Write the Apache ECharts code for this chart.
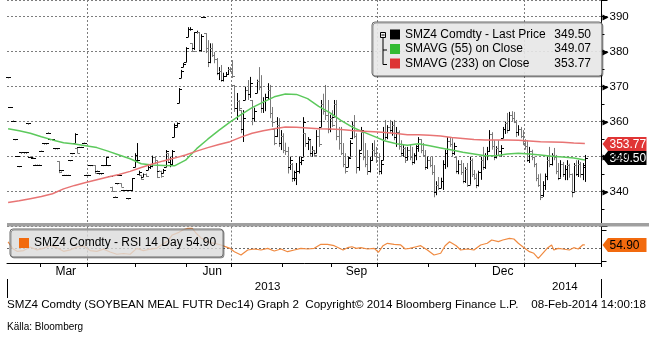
<!DOCTYPE html>
<html><head><meta charset="utf-8">
<script src="https://cdn.jsdelivr.net/npm/echarts@6/dist/echarts.min.js"></script>
<style>html,body{margin:0;padding:0;background:#fff}#c{width:649px;height:344px}</style>
</head><body><div id="c"></div>
<script>
// ---- categories: trading days (weekdays) from 2013-02-08 to 2014-02-18 ----
const dates = [];
(function () {
  let t = Date.UTC(2013, 1, 8); const end = Date.UTC(2014, 1, 18);
  while (t <= end) { const d = new Date(t); const w = d.getUTCDay(); if (w !== 0 && w !== 6) dates.push(d.toISOString().slice(0, 10)); t += 86400000; }
})();

// ---- daily bars [open, high, low, close], one per trading day from 2013-02-08 ----
const bars = [
[372.7,372.7,372.7,372.7],[364.2,364.2,364.2,364.2],[360.3,360.3,360.3,360.3],[355.0,355.0,355.0,355.0],[350.2,350.2,350.2,350.2],
[347.3,347.3,347.3,347.3],[351.2,351.2,351.2,351.2],[351.2,351.2,351.2,351.2],[351.2,351.2,351.2,351.2],[359.5,359.5,359.5,359.5],
[350.0,350.0,350.0,350.0],[349.7,349.7,349.7,349.7],[347.7,347.7,347.7,347.7],[347.7,347.7,347.7,347.7],[347.7,347.7,347.7,347.7],
[351.7,351.7,351.7,351.7],[353.8,353.8,353.8,353.8],[353.8,353.8,353.8,353.8],[356.9,356.9,356.9,356.9],[355.0,355.0,355.0,355.0],
[355.0,355.0,355.0,355.0],[352.4,352.4,352.4,352.4],[352.4,352.4,352.4,352.4],[348.7,348.7,345.3,345.5],[346.1,346.1,346.1,346.1],
[344.8,344.8,344.8,344.8],[344.8,344.8,344.8,344.8],[344.8,344.8,344.8,344.8],[349.0,349.0,349.0,349.0],[351.0,351.0,351.0,351.0],
[354.0,356.7,353.9,356.5],[352.5,352.5,351.0,351.0],[352.8,352.8,352.8,352.8],[352.8,352.8,352.8,352.8],[354.0,354.0,354.0,354.0],
[344.8,344.8,344.8,344.8],[344.8,344.8,344.8,344.8],[347.6,347.6,347.6,347.6],[347.6,347.6,347.6,347.6],[347.6,347.6,345.2,345.4],
[346.0,346.0,346.0,346.0],[345.2,345.2,345.2,345.2],[345.2,345.2,345.2,345.2],[347.6,347.6,347.6,347.6],[347.6,350.0,347.6,350.0],
[347.6,347.6,347.6,347.6],[344.5,344.5,344.5,344.5],[341.4,341.4,340.0,340.2],[338.6,338.6,338.6,338.6],[342.4,342.4,342.4,342.4],
[344.8,344.8,344.8,344.8],[342.4,342.4,341.4,341.4],[340.5,340.5,340.5,340.5],[340.5,340.5,340.5,340.5],[338.1,338.1,338.1,338.1],
[340.5,340.5,340.5,340.5],[340.5,343.9,340.5,343.9],[347.0,351.0,347.0,350.5],[349.0,353.9,348.2,349.0],[345.0,346.0,344.8,345.5],
[344.8,344.8,343.4,343.6],[344.2,345.2,344.2,345.0],[345.0,345.2,344.2,344.5],[346.2,347.6,346.2,347.0],[347.0,347.6,346.5,347.4],
[347.4,350.3,347.0,350.0],[350.0,350.0,348.0,348.5],[349.0,349.0,343.9,344.2],[346.0,346.0,346.0,346.0],[346.0,346.0,344.0,344.5],
[345.2,346.5,345.2,346.2],[347.0,351.9,347.0,351.5],[351.0,351.0,348.2,348.5],[348.5,350.0,347.0,349.5],[348.0,351.9,347.6,351.5],
[355.6,359.5,355.6,359.0],[358.5,359.8,358.5,359.5],[365.3,369.6,365.3,369.2],[372.5,374.8,372.5,374.5],[375.6,376.8,375.6,376.5],
[377.0,381.3,377.0,381.0],[384.2,387.0,384.2,386.5],[386.5,387.0,386.0,386.5],[382.4,382.4,379.9,380.2],[381.0,385.6,380.5,385.6],
[385.6,386.0,385.2,385.6],[385.6,385.6,379.9,380.5],[380.5,385.0,380.0,384.5],[390.0,390.0,390.0,390.0],[385.3,385.3,379.6,381.0],
[381.0,383.3,375.6,377.0],[377.0,382.4,376.7,381.0],[381.0,382.4,378.5,379.0],[379.0,379.9,376.7,378.0],[378.0,378.2,373.3,374.0],
[374.0,375.6,371.9,374.5],[374.5,376.2,371.4,372.0],[372.0,374.0,371.5,373.0],[373.0,374.2,372.8,373.5],[373.5,375.6,373.5,375.0],
[375.0,375.6,374.2,374.5],[374.5,377.6,372.5,373.0],[370.5,370.5,362.8,364.0],[364.0,368.2,360.5,366.0],[366.0,366.2,363.3,364.0],
[363.3,363.3,356.7,358.0],[358.0,363.3,354.2,361.0],[366.2,370.0,366.2,369.0],[369.0,371.9,366.2,368.0],[368.0,372.8,366.8,371.0],
[366.2,366.2,359.0,361.0],[361.0,364.0,360.0,363.0],[368.2,372.0,368.2,371.5],[371.5,375.6,369.0,370.0],[370.0,373.3,362.5,364.0],
[364.0,367.0,362.5,366.0],[366.0,368.0,363.0,367.0],[367.0,371.0,366.2,369.0],[369.0,370.5,361.0,362.5],[362.5,364.2,358.5,360.0],
[358.0,358.2,353.3,354.0],[356.0,361.3,355.6,359.0],[359.0,361.0,352.8,354.0],[354.0,357.6,351.9,356.0],[356.0,356.7,351.0,352.0],
[352.0,354.0,350.5,351.5],[351.5,352.8,345.2,347.0],[347.0,350.0,346.2,349.0],[348.0,348.2,342.8,344.0],[344.0,346.0,343.0,345.5],
[344.0,348.2,341.9,346.0],[346.0,350.0,345.2,348.5],[348.5,350.0,347.6,349.0],[350.0,361.3,350.0,360.0],[356.7,356.7,352.8,354.0],
[354.0,355.6,351.9,355.0],[354.7,354.7,350.0,351.0],[351.0,353.0,350.0,352.0],[351.9,351.9,350.0,350.5],[351.0,357.6,351.0,356.0],
[356.0,358.5,352.8,353.5],[358.5,366.2,358.5,365.0],[365.0,368.0,362.0,363.0],[363.0,370.5,360.5,362.0],[362.0,366.2,356.7,358.0],
[358.0,362.0,357.0,361.0],[361.0,363.3,358.5,359.0],[361.3,366.2,361.3,365.0],[365.0,366.2,354.7,356.0],[356.0,358.5,352.0,354.0],
[354.0,358.5,350.5,351.0],[351.0,353.9,347.0,348.0],[348.0,351.0,345.2,346.0],[347.0,350.0,347.0,349.5],[350.0,354.7,350.0,354.0],
[355.3,360.0,355.0,359.0],[359.0,361.9,355.3,356.0],[356.0,356.7,345.2,347.0],[347.0,352.0,346.0,351.0],[352.0,358.5,351.9,357.5],
[357.0,357.0,349.0,350.0],[350.0,353.9,347.0,348.0],[348.0,351.9,344.8,346.0],[346.0,350.0,345.5,349.0],[349.0,353.9,349.0,352.0],
[352.0,354.7,350.0,351.0],[351.0,352.8,348.2,350.0],[350.0,351.0,344.8,346.0],[346.0,349.0,345.0,348.0],[349.0,358.5,349.0,357.0],
[357.0,360.5,354.7,355.5],[355.5,359.0,355.0,358.5],[358.5,360.5,356.7,357.5],[357.5,360.0,356.0,359.0],[359.0,360.5,354.7,355.5],
[355.5,358.5,352.8,357.0],[357.0,357.5,352.0,353.0],[353.0,354.7,350.0,350.5],[351.0,353.3,350.0,352.5],[352.5,352.8,348.2,349.0],
[350.0,352.8,349.0,352.0],[352.0,353.3,349.0,350.0],[350.0,352.8,347.6,348.5],[348.5,351.0,348.0,350.5],[350.5,353.3,349.0,352.5],
[353.0,355.6,351.4,355.0],[355.0,355.0,351.0,352.0],[352.0,353.9,350.0,350.5],[350.5,351.9,346.2,347.0],[347.0,350.0,346.5,349.0],
[349.0,350.0,347.0,347.5],[347.5,350.0,344.8,345.5],[345.5,347.6,338.4,340.0],[340.0,343.0,339.0,342.0],[342.0,344.2,340.5,341.0],
[341.0,344.0,341.0,343.0],[343.0,349.0,340.5,348.0],[348.0,352.0,346.5,351.0],[351.0,355.6,347.0,354.5],[354.5,355.6,352.8,353.5],
[353.5,355.3,350.0,351.0],[351.0,354.0,350.5,353.0],[350.0,350.0,345.2,346.0],[346.0,349.0,345.0,348.0],[348.0,349.0,344.8,345.5],
[345.5,348.2,342.4,343.0],[343.0,347.0,342.5,346.5],[346.5,348.2,341.4,342.0],[342.0,350.0,342.0,349.0],[349.0,349.5,344.2,345.0],
[345.0,346.2,343.4,344.0],[344.0,345.2,341.0,342.0],[342.0,346.0,341.5,345.5],[345.5,350.0,343.4,349.0],[349.0,352.8,346.2,347.0],
[347.0,351.0,346.5,350.5],[350.5,352.8,349.0,351.5],[351.5,357.6,351.4,356.5],[356.5,357.0,352.0,353.0],[353.0,354.7,349.0,350.0],
[350.0,353.0,349.5,352.5],[352.5,354.7,350.5,351.5],[351.5,353.3,350.0,352.5],[355.3,358.5,355.3,358.0],[358.0,360.0,356.5,359.5],
[359.5,362.5,356.7,357.5],[357.5,362.8,357.5,362.0],[362.0,363.0,360.0,361.0],[361.0,362.8,359.6,360.0],[360.0,360.5,355.6,357.0],
[357.0,359.0,356.0,358.0],[358.0,358.5,355.3,356.0],[356.0,357.6,353.3,354.0],[354.0,355.0,352.0,353.0],[353.0,354.7,348.5,349.0],
[349.0,352.8,348.2,351.5],[351.5,352.0,349.0,350.0],[350.0,350.0,347.0,348.0],[348.0,348.2,343.0,344.0],[344.0,345.0,341.4,342.0],
[342.0,345.2,337.6,338.5],[339.0,343.0,338.5,342.0],[342.0,345.2,340.5,344.5],[344.5,350.0,343.3,349.0],[349.0,352.8,347.0,348.0],
[348.0,351.0,347.5,350.5],[350.5,352.5,349.0,350.0],[350.0,350.5,345.0,346.0],[346.0,348.2,343.3,344.0],[344.0,349.0,344.0,348.0],
[348.0,348.5,344.2,345.0],[345.0,347.6,343.3,346.5],[346.5,349.0,343.3,347.5],[347.5,348.0,344.0,345.0],[345.0,345.2,338.4,340.0],
[340.0,348.2,340.0,347.5],[347.5,349.0,344.5,345.0],[345.0,349.0,344.2,348.0],[348.0,348.5,344.0,345.0],[345.0,348.2,343.3,347.5],
[347.0,350.5,342.8,349.5]
];

// ---- moving averages, read every 5th trading day (index 0,5,...,260) ----
const sma55 = [358.0,357.4,356.7,355.7,354.8,354.0,353.6,353.1,352.6,351.6,350.5,349.4,348.0,347.6,347.5,347.4,349.0,352.3,355.0,357.5,
359.9,362.0,364.0,365.6,367.1,367.9,367.8,366.6,364.4,362.6,360.4,358.5,357.1,355.8,354.5,353.7,353.3,353.7,353.1,352.5,
351.9,351.3,350.8,350.3,350.3,350.8,351.0,350.8,350.5,350.1,349.9,349.6,349.07];
const sma233 = [336.9,337.4,338.0,338.6,339.4,340.8,341.8,342.6,343.4,344.2,344.9,345.8,346.9,347.9,348.8,349.6,350.5,351.6,352.6,353.5,
354.3,355.6,356.7,357.4,358.0,358.5,358.4,358.2,358.0,357.9,357.8,357.5,357.3,357.1,356.9,356.6,356.3,356.3,356.1,355.9,
355.5,355.2,354.9,354.8,354.8,354.8,354.7,354.5,354.3,354.2,354.1,353.9,353.77];
const smaStep = 5;

// ---- RSI 14 day: [trading-day index, value] ----
const rsi14 = [[0,59],[2,50],[4,46],[7,47],[10,52],[13,48],[16,50],[19,54],[22,51],[25,46],[28,48],[31,52],[34,53],[37,47],[40,46],
[43,49],[46,45],[49,42],[52,43],[55,42],[58,50],[61,47],[64,49],[67,50],[69,54.7],[72,60],[74,68.4],[77,72],[79,75.5],[81,77.5],
[83,77.5],[85,70],[87,64.2],[90,58.8],[93,57],[96,54.7],[100,50.1],[102,45.5],[105,41],[108,47.8],[111,49.2],[114,47.8],[117,50.1],
[120,46.4],[123,49.2],[126,45.5],[129,47.8],[132,50.1],[135,49.2],[138,50.1],[141,55.6],[144,55.6],[147,53.7],[151,47.8],[153,51],
[155,52.3],[157,50.1],[159,51],[162,49.2],[165,50.1],[167,44.7],[169,53.7],[171,57],[174,55.6],[177,54.7],[179,49.2],[181,50.1],
[184,52.3],[186,53.7],[189,47.8],[192,41],[195,43.3],[197,53.7],[199,59.2],[202,53.7],[204,47.8],[207,49.2],[210,47.8],[213,54.7],
[216,57],[218,61.5],[221,59.2],[223,61.5],[226,63.8],[228,62.9],[230,57],[232,52.3],[235,45.5],[237,43.3],[239,36.4],[241,43.3],
[243,50.1],[245,54.7],[246,47.8],[248,50.1],[250,49.2],[253,47.8],[255,51],[257,49.2],[259,54.7],[260,54.9]];
const rsiMidline = 50;

// ---- labels ----
const seriesNames = ['SMZ4 Comdty - Last Price', 'SMAVG (55) on Close', 'SMAVG (233) on Close'];
const rsiName = 'SMZ4 Comdty - RSI 14 Day';
const priceTicks = [340, 350, 360, 370, 380, 390];
const monthNames = {'03': 'Mar', '06': 'Jun', '09': 'Sep', '12': 'Dec'};
const quarterStartMonths = ['01', '04', '07', '10'];
const footerLeft = 'SMZ4 Comdty (SOYBEAN MEAL FUTR Dec14) Graph 2  Copyright\u00a9 2014 Bloomberg Finance L.P.';
const footerRight = '08-Feb-2014 14:00:18';
const sourceText = 'K\u00e4lla: Bloomberg';

// ---- derived helpers ----
const ym = i => dates[i].slice(0, 7);
const isMonthStart = i => i > 0 && ym(i) !== ym(i - 1);
const isQuarterStart = i => isMonthStart(i) && quarterStartMonths.includes(dates[i].slice(5, 7));
const monthLabelIdx = new Set();
Object.keys(monthNames).forEach(m => {
  const idx = dates.map((d, i) => [d, i]).filter(p => p[0].slice(5, 7) === m).map(p => p[1]);
  if (idx.length) monthLabelIdx.add(Math.round((idx[0] + idx[idx.length - 1]) / 2) + 1);
});
const yearIdx = {};
dates.forEach((d, i) => { const y = d.slice(0, 4); (yearIdx[y] = yearIdx[y] || []).push(i); });
const yearLabelIdx = new Set(Object.values(yearIdx).map(a => Math.round((a[0] + a[a.length - 1]) / 2) + 1));
const yearStartIdx = new Set(Object.values(yearIdx).map(a => a[0]).filter(i => i > 0));

const lastClose = bars[bars.length - 1][3];
const lastSma55 = sma55[sma55.length - 1];
const lastSma233 = sma233[sma233.length - 1];
const lastRsi = rsi14[rsi14.length - 1][1];
const legendVals = {};
legendVals[seriesNames[0]] = lastClose.toFixed(2);
legendVals[seriesNames[1]] = lastSma55.toFixed(2);
legendVals[seriesNames[2]] = lastSma233.toFixed(2);

const FONT = '"Liberation Sans", Arial, sans-serif';
const GRID_LINE = {color: '#7d7d7d', type: [2, 2], width: 1};

function renderBar(params, api) {
  const i = api.value(0), o = api.value(1), h = api.value(2), l = api.value(3), c = api.value(4);
  const pt = api.coord([i, h]), pb = api.coord([i, l]), po = api.coord([i, o]), pc = api.coord([i, c]);
  const x = Math.round(pt[0]) + 0.5;
  let y1 = pt[1], y2 = pb[1];
  if (y2 - y1 < 1) y2 = y1 + 1;
  const col = c < o ? '#7a7a7a' : '#000';
  const st = {stroke: col, lineWidth: 1};
  const yo = Math.round(po[1]) + 0.5, yc = Math.round(pc[1]) + 0.5;
  return {type: 'group', children: [
    {type: 'line', shape: {x1: x, y1: y1, x2: x, y2: y2}, style: st},
    {type: 'line', shape: {x1: x - 2.5, y1: yo, x2: x, y2: yo}, style: st},
    {type: 'line', shape: {x1: x, y1: yc, x2: x + 2.5, y2: yc}, style: st}
  ]};
}

const chart = echarts.init(document.getElementById('c'), null, {renderer: 'canvas'});
chart.setOption({
  animation: false,
  backgroundColor: '#fff',
  textStyle: {fontFamily: FONT},
  grid: [
    {left: 7, right: 47.5, top: 0, height: 226.7},
    {left: 7, right: 47.5, top: 226.5, height: 36.5}
  ],
  legend: [
    {
      orient: 'vertical', left: 372, top: 22, padding: [6, 11, 6, 18],
      itemWidth: 10, itemHeight: 10, itemGap: 1.5, icon: 'rect', selectedMode: false,
      backgroundColor: 'rgba(240,240,240,0.88)', borderColor: '#6a6a6a', borderWidth: 1, borderRadius: 3,
      shadowColor: 'rgba(0,0,0,0.35)', shadowOffsetX: 1, shadowOffsetY: 1,
      data: [
        {name: seriesNames[0], itemStyle: {color: '#000'}},
        {name: seriesNames[1], itemStyle: {color: '#33bb33'}},
        {name: seriesNames[2], itemStyle: {color: '#dd3333'}}
      ],
      formatter: name => '{n|' + name + '}{v|' + legendVals[name] + '}',
      textStyle: {
        fontFamily: FONT, fontSize: 12, color: '#000', lineHeight: 13,
        rich: {
          n: {width: 140, fontFamily: FONT, fontSize: 12, lineHeight: 13, color: '#000'},
          v: {width: 46, align: 'right', fontFamily: FONT, fontSize: 12, lineHeight: 13, color: '#000'}
        }
      }
    },
    {
      orient: 'horizontal', left: 10, top: 229, padding: [7, 7, 7, 9],
      itemWidth: 10, itemHeight: 10, icon: 'rect', selectedMode: false,
      backgroundColor: 'rgba(240,240,240,0.72)', borderColor: '#6a6a6a', borderWidth: 1, borderRadius: 3,
      shadowColor: 'rgba(0,0,0,0.35)', shadowOffsetX: 1, shadowOffsetY: 1,
      data: [{name: rsiName, itemStyle: {color: '#f26a0e'}}],
      formatter: name => name + ' ' + lastRsi.toFixed(2),
      textStyle: {fontFamily: FONT, fontSize: 12, color: '#000', lineHeight: 14}
    }
  ],
  xAxis: [
    {type: 'category', gridIndex: 0, data: dates, boundaryGap: true,
     axisLine: {show: false}, axisTick: {show: false}, axisLabel: {show: false},
     splitLine: {show: true, interval: (i) => isQuarterStart(i), lineStyle: GRID_LINE}},
    {type: 'category', gridIndex: 1, data: dates, boundaryGap: true,
     axisLine: {show: true, lineStyle: {color: '#000', width: 1}},
     axisTick: {show: true, interval: (i) => isMonthStart(i), length: 4, lineStyle: {color: '#000'}},
     axisLabel: {show: true, interval: (i) => monthLabelIdx.has(i), formatter: v => monthNames[v.slice(5, 7)] || '',
                 margin: 3, fontSize: 12, color: '#000', fontFamily: FONT},
     splitLine: {show: true, interval: (i) => isQuarterStart(i), lineStyle: GRID_LINE}},
    {type: 'category', gridIndex: 1, data: dates, boundaryGap: true, position: 'bottom', offset: 16,
     axisLine: {show: false},
     axisTick: {show: true, interval: (i) => yearStartIdx.has(i), length: 19, lineStyle: {color: '#000'}},
     axisLabel: {show: true, interval: (i) => yearLabelIdx.has(i), formatter: v => v.slice(0, 4),
                 margin: 2, fontSize: 11.5, color: '#000', fontFamily: FONT},
     splitLine: {show: false}}
  ],
  yAxis: [
    {type: 'value', gridIndex: 0, position: 'right', min: 330, max: 394.771, interval: 10,
     axisLine: {show: true, lineStyle: {color: '#000', width: 1}},
     axisTick: {show: true, length: 6, lineStyle: {color: '#000', width: 1}},
     minorTick: {show: true, splitNumber: 2, length: 3, lineStyle: {color: '#000'}},
     axisLabel: {show: true, margin: 8, showMinLabel: false, showMaxLabel: false, fontSize: 11.5, color: '#000', fontFamily: FONT},
     splitLine: {show: true, lineStyle: GRID_LINE}},
    {type: 'value', gridIndex: 1, position: 'right', min: 30, max: 80,
     axisLine: {show: true, lineStyle: {color: '#000', width: 1}},
     axisTick: {show: true, customValues: [32, 75], length: 5, lineStyle: {color: '#000'}},
     axisLabel: {show: false}, splitLine: {show: false}}
  ],
  series: [
    {
      name: seriesNames[0], type: 'custom', xAxisIndex: 0, yAxisIndex: 0,
      renderItem: renderBar, itemStyle: {color: '#000'},
      encode: {x: 0, y: [1, 2, 3, 4]},
      data: bars.map((b, i) => [i, b[0], b[1], b[2], b[3]]),
      z: 3
    },
    {
      name: seriesNames[1], type: 'line', xAxisIndex: 0, yAxisIndex: 0,
      data: sma55.map((v, k) => [k * smaStep, v]),
      showSymbol: false, symbol: 'none', lineStyle: {color: '#5cc95c', width: 1.5}, itemStyle: {color: '#33bb33'}, z: 4
    },
    {
      name: seriesNames[2], type: 'line', xAxisIndex: 0, yAxisIndex: 0,
      data: sma233.map((v, k) => [k * smaStep, v]),
      showSymbol: false, symbol: 'none', lineStyle: {color: '#e87474', width: 1.5}, itemStyle: {color: '#dd3333'}, z: 4
    },
    {
      name: rsiName, type: 'line', xAxisIndex: 1, yAxisIndex: 1,
      data: rsi14, showSymbol: false, symbol: 'none',
      lineStyle: {color: '#f08a40', width: 1.2}, itemStyle: {color: '#f26a0e'}, z: 3
    }
  ]
});

// ---- decorations, axis flags, tick arrows and RSI midline (positioned through the chart's own scales) ----
const n = dates.length;
const xLast = chart.convertToPixel({xAxisIndex: 0}, n - 1);
const xPrev = chart.convertToPixel({xAxisIndex: 0}, n - 2);
const band = xLast - xPrev;
const axisX = xLast + band / 2;
const xFirst = chart.convertToPixel({xAxisIndex: 1}, 0) - band / 2;

function flagEl(y, text, bg, fg) {
  return {
    type: 'group', x: Math.round(axisX) + 0.5, y: Math.round(y), z: 120, silent: true,
    children: [
      {type: 'polygon', shape: {points: [[0, 0], [5.5, -7], [44, -7], [44, 7], [5.5, 7]]}, style: {fill: bg}},
      {type: 'text', x: 7, y: 0.5, style: {text: text, fill: fg, fontSize: 12, fontFamily: FONT, verticalAlign: 'middle', align: 'left'}}
    ]
  };
}
const graphics = [
  {type: 'rect', shape: {x: 7, y: 223, width: 642, height: 3.6}, style: {fill: '#a0a0a0'}, z: 100, silent: true},
  {type: 'rect', shape: {x: 380.5, y: 32.5, width: 5, height: 5}, style: {fill: '#f0f0f0', stroke: '#000', lineWidth: 1}, z: 110, silent: true},
  {type: 'line', shape: {x1: 381.5, y1: 35, x2: 384.5, y2: 35}, style: {stroke: '#000', lineWidth: 1}, z: 110, silent: true},
  {type: 'line', shape: {x1: 383, y1: 37.5, x2: 383, y2: 64.5}, style: {stroke: '#000', lineWidth: 1}, z: 110, silent: true},
  {type: 'line', shape: {x1: 383, y1: 50, x2: 387, y2: 50}, style: {stroke: '#000', lineWidth: 1}, z: 110, silent: true},
  {type: 'line', shape: {x1: 383, y1: 64.5, x2: 387, y2: 64.5}, style: {stroke: '#000', lineWidth: 1}, z: 110, silent: true},
  {type: 'text', x: 7, y: 305, z: 110, silent: true,
   style: {text: footerLeft, fontSize: 11.6, fontFamily: FONT, fill: '#000', verticalAlign: 'middle', align: 'left'}},
  {type: 'text', x: 646, y: 305, z: 110, silent: true,
   style: {text: footerRight, fontSize: 11.6, fontFamily: FONT, fill: '#000', verticalAlign: 'middle', align: 'right'}},
  {type: 'text', x: 7, y: 327, z: 110, silent: true,
   style: {text: sourceText, fontSize: 10, fontFamily: FONT, fill: '#000', verticalAlign: 'middle', align: 'left'}}
];
priceTicks.forEach(v => {
  const y = chart.convertToPixel({yAxisIndex: 0}, v);
  graphics.push({type: 'polygon', x: Math.round(axisX) + 0.5, y: Math.round(y) + 0.5, z: 115, silent: true,
    shape: {points: [[0, -3], [6, 0], [0, 3]]}, style: {fill: '#000'}});
});
const yMid = Math.round(chart.convertToPixel({yAxisIndex: 1}, rsiMidline)) + 0.5;
graphics.push({type: 'line', z: 1, silent: true,
  shape: {x1: xFirst, y1: yMid, x2: axisX, y2: yMid},
  style: {stroke: '#6a6a6a', lineWidth: 1, lineDash: [2, 2]}});
graphics.push(flagEl(chart.convertToPixel({yAxisIndex: 0}, lastSma233), lastSma233.toFixed(2), '#e03535', '#fff'));
graphics.push(flagEl(chart.convertToPixel({yAxisIndex: 0}, lastClose), lastClose.toFixed(2), '#000', '#fff'));
graphics.push(flagEl(chart.convertToPixel({yAxisIndex: 1}, lastRsi), lastRsi.toFixed(2), '#f26a0e', '#000'));
chart.setOption({graphic: graphics});
</script>
</body></html>
